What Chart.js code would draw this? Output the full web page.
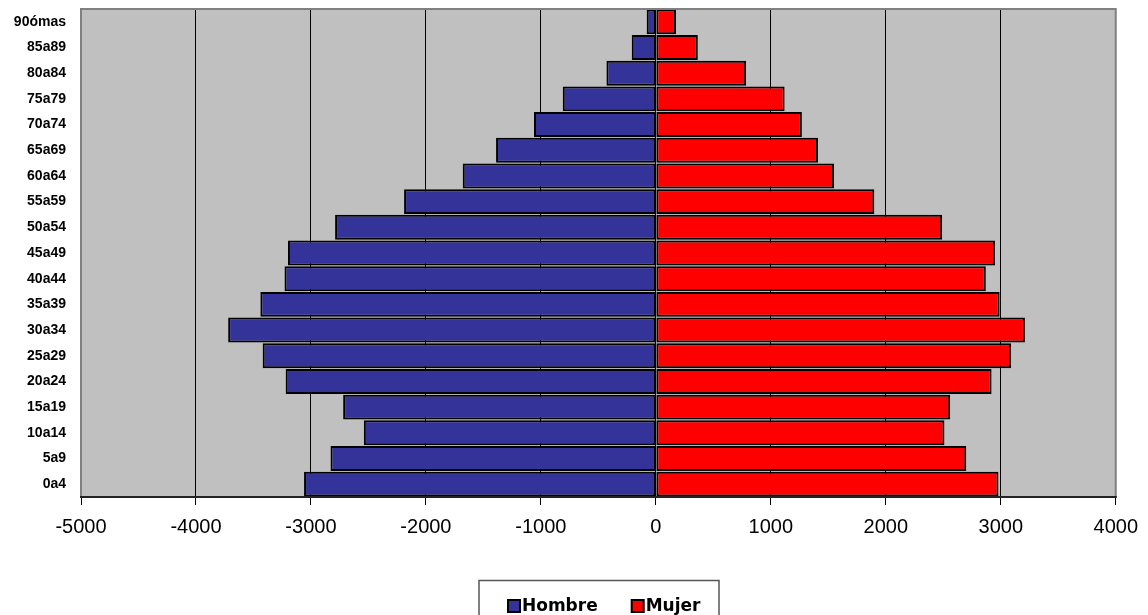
<!DOCTYPE html>
<html>
<head>
<meta charset="utf-8">
<script src="https://cdn.jsdelivr.net/npm/chart.js@4/dist/chart.umd.min.js"></script>
<style>
  html, body { margin: 0; padding: 0; background: #fff; }
  #wrap { width: 1148px; height: 615px; position: relative; }
</style>
</head>
<body>
<div id="wrap"><canvas id="pyramid"></canvas></div>
<script>
// ---- data (top row first) ----
const ageGroups = ['90ómas', '85a89', '80a84', '75a79', '70a74', '65a69', '60a64', '55a59', '50a54',
                   '45a49', '40a44', '35a39', '30a34', '25a29', '20a24', '15a19', '10a14', '5a9', '0a4'];
const hombre = [-80, -210, -430, -810, -1060, -1390, -1680, -2190, -2790,
                -3200, -3230, -3440, -3720, -3420, -3220, -2720, -2540, -2830, -3060];
const mujer = [175, 365, 785, 1120, 1270, 1410, 1550, 1900, 2490,
               2950, 2870, 2990, 3210, 3090, 2920, 2560, 2510, 2700, 2980];
const xMin = -5000;
const xMax = 4000;
const xStep = 1000;

// gray plot area + frame, and a boxed legend under the axis
const framePlugin = {
    id: 'frame',
    beforeDraw(chart) {
        const { ctx, chartArea: a } = chart;
        ctx.save();
        ctx.fillStyle = '#C0C0C0';
        ctx.fillRect(a.left, a.top, a.right - a.left, a.bottom - a.top);
        ctx.restore();
    },
    afterDraw(chart) {
        const { ctx, chartArea: a } = chart;
        ctx.save();
        ctx.lineWidth = 2;
        ctx.strokeStyle = '#808080';
        ctx.beginPath();
        ctx.moveTo(a.left, a.bottom);
        ctx.lineTo(a.left, a.top);
        ctx.lineTo(a.right, a.top);
        ctx.lineTo(a.right, a.bottom);
        ctx.stroke();
        ctx.strokeStyle = '#222';
        ctx.beginPath();
        ctx.moveTo(a.left - 1, a.bottom);
        ctx.lineTo(a.right + 1, a.bottom);
        ctx.stroke();

        // legend
        ctx.lineWidth = 1.5;
        ctx.strokeStyle = '#555';
        ctx.strokeRect(479, 580.5, 240, 60);
        ctx.font = 'bold 17px "DejaVu Sans", Verdana, sans-serif';
        ctx.textBaseline = 'alphabetic';
        let x = 508;
        chart.data.datasets.forEach((ds) => {
            ctx.fillStyle = ds.backgroundColor;
            ctx.fillRect(x, 600, 12, 12);
            ctx.lineWidth = 2;
            ctx.strokeStyle = '#000';
            ctx.strokeRect(x, 600, 12, 12);
            ctx.fillStyle = '#000';
            ctx.fillText(ds.label, x + 14, 611);
            x += 14 + ctx.measureText(ds.label).width + 34;
        });
        ctx.restore();
    }
};

new Chart(document.getElementById('pyramid'), {
    type: 'bar',
    data: {
        labels: ageGroups,
        datasets: [
            {
                label: 'Hombre',
                data: hombre,
                backgroundColor: '#333399',
                borderColor: '#000',
                borderWidth: 2,
                borderSkipped: false
            },
            {
                label: 'Mujer',
                data: mujer,
                backgroundColor: '#FF0000',
                borderColor: '#000',
                borderWidth: 2,
                borderSkipped: false
            }
        ]
    },
    options: {
        indexAxis: 'y',
        responsive: true,
        maintainAspectRatio: false,
        animation: false,
        layout: { padding: { top: 9, right: 29, left: 0, bottom: 35 } },
        datasets: { bar: { barPercentage: 0.97, categoryPercentage: 1 } },
        scales: {
            x: {
                stacked: true,
                min: xMin,
                max: xMax,
                afterFit: (scale) => { scale.height = 83; },
                ticks: {
                    stepSize: xStep,
                    color: '#000',
                    padding: 10,
                    callback: (v) => String(v),
                    font: { family: 'Liberation Sans, Arial, sans-serif', size: 20 }
                },
                grid: { color: '#000', lineWidth: 1, tickLength: 8, tickColor: '#000' },
                border: { display: false }
            },
            y: {
                stacked: true,
                afterFit: (scale) => { scale.width = 81; },
                ticks: {
                    color: '#000',
                    padding: 0,
                    font: { family: 'Liberation Sans, Arial, sans-serif', size: 14, weight: 'bold' }
                },
                // invisible tick marks only push the labels away from the plot
                grid: { drawOnChartArea: false, drawTicks: true, tickLength: 15, tickColor: 'rgba(0,0,0,0)' },
                border: { display: false }
            }
        },
        plugins: {
            legend: { display: false },
            tooltip: { enabled: false }
        }
    },
    plugins: [framePlugin]
});
</script>
</body>
</html>
